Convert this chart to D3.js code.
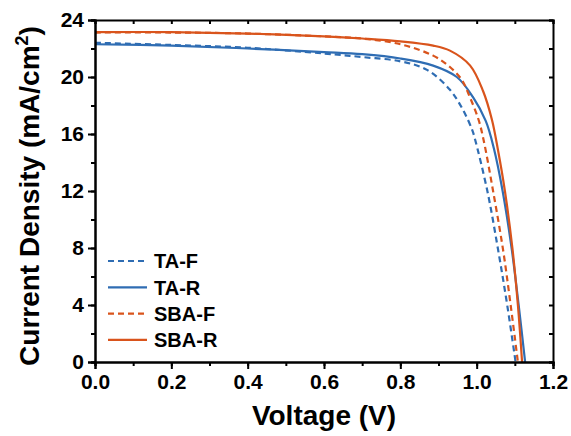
<!DOCTYPE html>
<html>
<head>
<meta charset="utf-8">
<script src="https://cdn.jsdelivr.net/npm/d3@7"></script>
<style>
  body { margin: 0; background: #fff; }
  text { font-family: Arial, "Liberation Sans", sans-serif; font-weight: bold; }
</style>
</head>
<body>
<script>
let w = 571;
let h = 436;
let margin = {top: 20, right: 18, bottom: 74, left: 95};

// J-V curves, [voltage (V), current density (mA/cm2)]
let taF = [[0,22.4],[0.2,22.25],[0.4,22.05],[0.6,21.65],[0.7,21.4],[0.8,21.1],[0.87,20.5],[0.93,19.1],[0.964,17.7],[0.988,16.3],[0.996,15.6],[1.028,12],[1.056,7.9],[1.08,4],[1.102,0]];
let taR = [[0,22.3],[0.2,22.2],[0.4,22.0],[0.6,21.75],[0.7,21.6],[0.8,21.3],[0.886,20.8],[0.948,20.0],[0.99,18.6],[1.024,16.9],[1.045,15.0],[1.068,12],[1.092,7.9],[1.11,4],[1.127,0]];
let sbaF = [[0,23.12],[0.2,23.12],[0.4,23.05],[0.6,22.85],[0.7,22.7],[0.8,22.3],[0.886,21.5],[0.93,20.7],[0.961,19.8],[0.982,18.6],[1.005,17.0],[1.018,15.6],[1.043,12],[1.069,7.9],[1.089,4],[1.108,0]];
let sbaR = [[0,23.15],[0.2,23.15],[0.4,23.05],[0.6,22.85],[0.7,22.7],[0.8,22.5],[0.886,22.2],[0.93,21.85],[0.983,20.8],[1.017,19.0],[1.04,17.0],[1.055,15.0],[1.074,12],[1.094,7.9],[1.108,4],[1.119,0]];

let seriesNames = ["TA-F", "TA-R", "SBA-F", "SBA-R"];
let xTicks = [0, 0.2, 0.4, 0.6, 0.8, 1.0, 1.2];
let yTicks = [0, 4, 8, 12, 16, 20, 24];

let blue = "#2f6db3";
let orange = "#d9541c";
let series = [
    {name: seriesNames[0], data: taF, color: blue, dash: "6,4"},
    {name: seriesNames[1], data: taR, color: blue, dash: null},
    {name: seriesNames[2], data: sbaF, color: orange, dash: "6,4"},
    {name: seriesNames[3], data: sbaR, color: orange, dash: null}
];

let svg = d3.select("body")
    .append("svg")
    .attr("width", w)
    .attr("height", h);

let x = d3.scaleLinear().domain([0, 1.2]).range([margin.left, w - margin.right]);
let y = d3.scaleLinear().domain([0, 24]).range([h - margin.bottom, margin.top]);

let xMinor = d3.range(0, 1.2001, 0.1);
let yMinor = d3.range(0, 24.001, 2);

// curves
let line = d3.line()
    .x(d => x(d[0]))
    .y(d => y(d[1]))
    .curve(d3.curveCatmullRom.alpha(0.5));

svg.selectAll("path.curve")
    .data(series)
    .enter()
    .append("path")
    .attr("class", "curve")
    .attr("d", d => line(d.data))
    .attr("fill", "none")
    .attr("stroke", d => d.color)
    .attr("stroke-width", 2.2)
    .attr("stroke-dasharray", d => d.dash);

// axes
let styleAxis = g => {
    g.select(".domain").attr("stroke", "#000").attr("stroke-width", 2);
    g.selectAll(".tick line").attr("stroke", "#000").attr("stroke-width", 2);
};

// minor ticks
svg.append("g")
    .attr("transform", `translate(0,${y(0)})`)
    .call(d3.axisBottom(x).tickValues(xMinor).tickSize(4).tickFormat(""))
    .call(styleAxis);
svg.append("g")
    .attr("transform", `translate(${x(0)},0)`)
    .call(d3.axisLeft(y).tickValues(yMinor).tickSize(4).tickFormat(""))
    .call(styleAxis);

// top / right, inward ticks
svg.append("g")
    .attr("transform", `translate(0,${y(24)})`)
    .call(d3.axisBottom(x).tickValues(xMinor).tickSize(4).tickFormat(""))
    .call(styleAxis);
svg.append("g")
    .attr("transform", `translate(${x(1.2)},0)`)
    .call(d3.axisLeft(y).tickValues(yMinor).tickSize(4).tickFormat(""))
    .call(styleAxis);

// major ticks with labels
let xAxis = svg.append("g")
    .attr("transform", `translate(0,${y(0)})`)
    .call(d3.axisBottom(x).tickValues(xTicks).tickSize(7).tickPadding(5).tickFormat(d3.format(".1f")))
    .call(styleAxis);
xAxis.selectAll("text")
    .attr("font-size", 21)
    .attr("font-family", "Arial, 'Liberation Sans', sans-serif")
    .attr("font-weight", "bold")
    .attr("fill", "#000");

let yAxis = svg.append("g")
    .attr("transform", `translate(${x(0)},0)`)
    .call(d3.axisLeft(y).tickValues(yTicks).tickSize(7).tickPadding(4).tickFormat(d3.format("d")))
    .call(styleAxis);
yAxis.selectAll("text")
    .attr("font-size", 21)
    .attr("font-family", "Arial, 'Liberation Sans', sans-serif")
    .attr("font-weight", "bold")
    .attr("fill", "#000");

// axis titles
svg.append("text")
    .attr("x", (x(0) + x(1.2)) / 2)
    .attr("y", 425)
    .attr("text-anchor", "middle")
    .attr("font-size", 28)
    .text("Voltage (V)");

let yTitle = svg.append("text")
    .attr("transform", `translate(39,196) rotate(-90)`)
    .attr("text-anchor", "middle")
    .attr("font-size", 28);
yTitle.append("tspan").text("Current Density (mA/cm");
yTitle.append("tspan").attr("font-size", 18).attr("dy", -11).text("2");
yTitle.append("tspan").attr("dy", 11).text(")");

// legend
let legend = svg.selectAll("g.legend")
    .data(series)
    .enter()
    .append("g")
    .attr("class", "legend")
    .attr("transform", (d, i) => `translate(108,${261 + i * 26.3})`);

legend.append("line")
    .attr("x1", 0)
    .attr("x2", 39)
    .attr("stroke", d => d.color)
    .attr("stroke-width", 2.2)
    .attr("stroke-dasharray", d => d.dash);

legend.append("text")
    .attr("x", 46)
    .attr("dy", "0.36em")
    .attr("font-size", 20)
    .text(d => d.name);
</script>
</body>
</html>
